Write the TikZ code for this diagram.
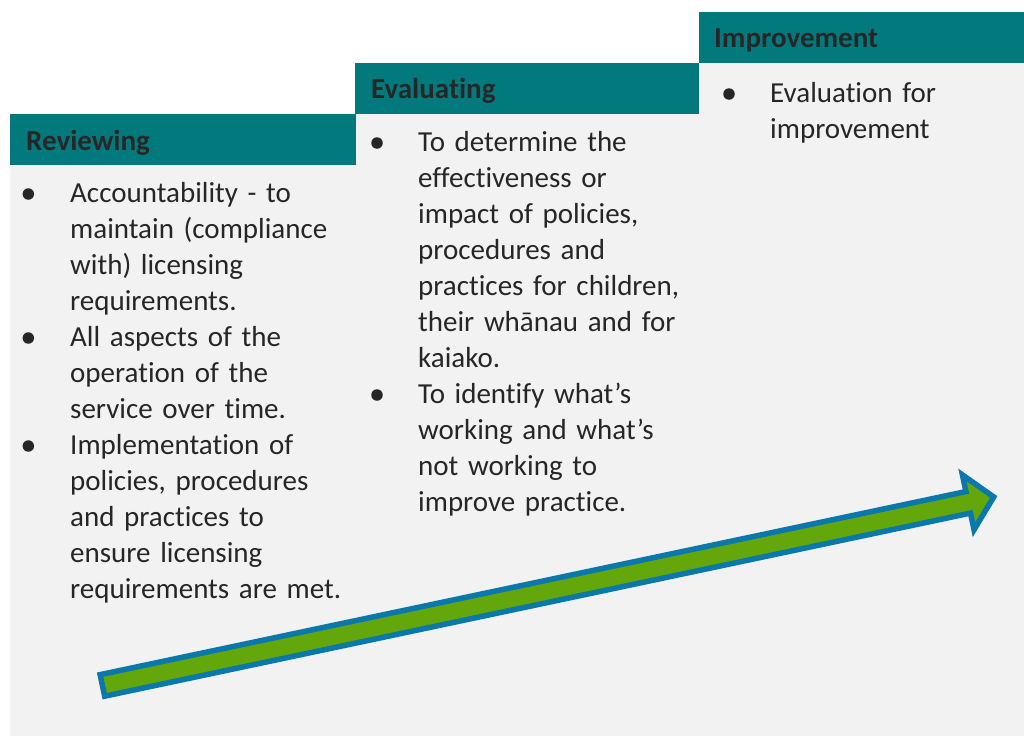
\documentclass[tikz,border=0pt]{standalone}
\usepackage{fontspec}
\setmainfont{Carlito}[Ligatures=NoCommon]
\definecolor{hdrteal}{HTML}{027A7D}
\definecolor{panelgrey}{HTML}{F2F2F2}
\definecolor{inkgrey}{HTML}{262626}
\definecolor{arrowgreen}{HTML}{64A70B}
\definecolor{arrowblue}{HTML}{0A78AA}
\tikzset{
  hdrbar/.style={fill=hdrteal, draw=none, inner sep=0pt, anchor=north west},
  hdrtext/.style={anchor=base west, inner sep=0pt, text=inkgrey,
    font=\fontsize{29}{36}\selectfont\bfseries},
  bodytext/.style={anchor=base west, inner sep=0pt, text=inkgrey, align=left,
    text width=330pt, font=\fontsize{29}{36}\selectfont},
  dot/.style={circle, fill=inkgrey, inner sep=0pt, minimum size=11.5pt}
}
\begin{document}
\begin{tikzpicture}[x=1pt,y=-1pt]
\useasboundingbox (0,0) rectangle (1024,736);
\fill[white] (0,0) rectangle (1024,736);

% grey column panels, stepped
\fill[panelgrey] (10,165) rectangle (356,736);
\fill[panelgrey] (356,114) rectangle (699,736);
\fill[panelgrey] (699,63) rectangle (1024,736);

% header bars
\node[hdrbar, minimum width=346pt, minimum height=51pt] (revbar) at (10,114) {};
\node[hdrbar, minimum width=344pt, minimum height=51pt] (evalbar) at (355,63) {};
\node[hdrbar, minimum width=325pt, minimum height=51pt] (impbar) at (699,12) {};

\node[hdrtext] (revtitle) at (26,150) {Reviewing};
\node[hdrtext] (evaltitle) at (371,98.5) {Evaluating};
\node[hdrtext] (imptitle) at (714,47) {Improvement};

% Reviewing column
\node[dot] (rb1) at (28.3,194) {};
\node[bodytext] (rt1) at (70,202) {Accountability - to\\maintain (compliance\\with) licensing\\requirements.};
\node[dot] (rb2) at (28.3,338) {};
\node[bodytext] (rt2) at (70,346) {All aspects of the\\operation of the\\service over time.};
\node[dot] (rb3) at (28.3,446) {};
\node[bodytext] (rt3) at (70,454) {Implementation of\\policies, procedures\\and practices to\\ensure licensing\\requirements are met.};

% Evaluating column
\node[dot] (eb1) at (377,143) {};
\node[bodytext] (et1) at (418,151) {To determine the\\effectiveness or\\impact of policies,\\procedures and\\practices for children,\\their whānau and for\\kaiako.};
\node[dot] (eb2) at (377,395) {};
\node[bodytext] (et2) at (418,403) {To identify what’s\\working and what’s\\not working to\\improve practice.};

% Improvement column
\node[dot] (ib1) at (729,94) {};
\node[bodytext] (it1) at (770,102) {Evaluation for\\improvement};

% rising block arrow
\begin{scope}[shift={(102.4,685.4)}, rotate=11.94]
  \filldraw[fill=arrowgreen, draw=arrowblue, line width=5.5pt, line join=miter, miter limit=10]
    (0,-11) -- (885,-11) -- (885,-28) -- (911,0) -- (885,28) -- (885,11) -- (0,11) -- cycle;
\end{scope}
\end{tikzpicture}
\end{document}
